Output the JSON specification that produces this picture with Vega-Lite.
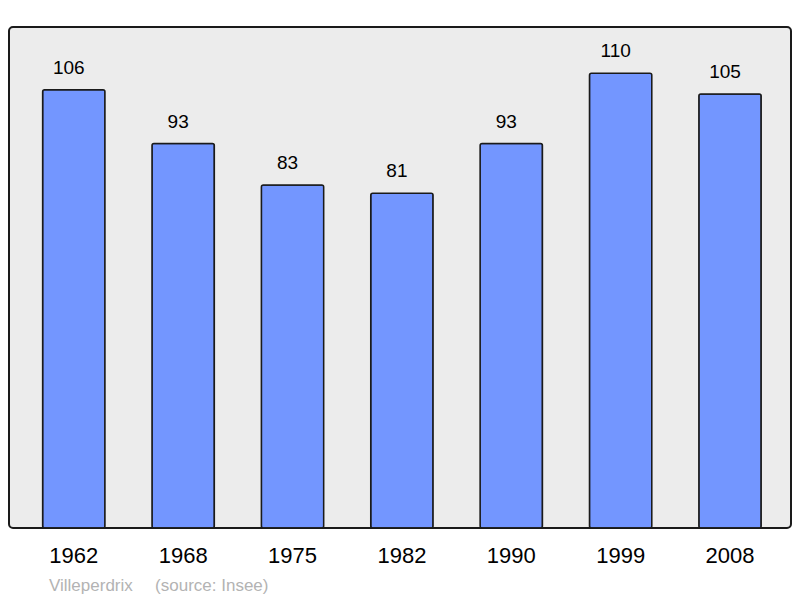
{
  "$schema": "https://vega.github.io/schema/vega-lite/v6.json",
  "width": 782,
  "height": 501,
  "autosize": {"type": "none"},
  "padding": {"left": 9, "top": 27, "right": 9, "bottom": 70},
  "background": "white",
  "title": {
    "text": "Villeperdrix\u00a0\u00a0\u00a0\u00a0\u2009(source: Insee)",
    "orient": "bottom",
    "anchor": "start",
    "dx": 40,
    "offset": 12,
    "font": "Liberation Sans",
    "fontSize": 17,
    "fontWeight": "normal",
    "color": "#b3b3b3"
  },
  "data": {
    "values": [
      {"year": "1962", "pop": 106},
      {"year": "1968", "pop": 93},
      {"year": "1975", "pop": 83},
      {"year": "1982", "pop": 81},
      {"year": "1990", "pop": 93},
      {"year": "1999", "pop": 110},
      {"year": "2008", "pop": 105}
    ]
  },
  "encoding": {
    "x": {
      "field": "year",
      "type": "ordinal",
      "title": null,
      "scale": {"paddingInner": 0.43, "paddingOuter": 0.29, "align": 0.53},
      "axis": {
        "domain": false,
        "ticks": false,
        "grid": false,
        "labelAngle": 0,
        "labelFont": "Liberation Sans",
        "labelFontSize": 22,
        "labelColor": "black",
        "labelPadding": 17
      }
    },
    "y": {
      "field": "pop",
      "type": "quantitative",
      "scale": {"domain": [0, 121.2], "nice": false},
      "axis": null
    }
  },
  "layer": [
    {
      "mark": {
        "type": "bar",
        "fill": "#7396ff",
        "stroke": "#1a1a1a",
        "strokeWidth": 1.5,
        "cornerRadius": 2
      }
    },
    {
      "mark": {
        "type": "text",
        "baseline": "alphabetic",
        "dx": -5,
        "dy": -16,
        "font": "Liberation Sans",
        "fontSize": 19,
        "color": "black"
      },
      "encoding": {"text": {"field": "pop", "type": "quantitative"}}
    }
  ],
  "config": {
    "view": {
      "fill": "#ececec",
      "stroke": "#1a1a1a",
      "strokeWidth": 2,
      "cornerRadius": 4
    }
  }
}
